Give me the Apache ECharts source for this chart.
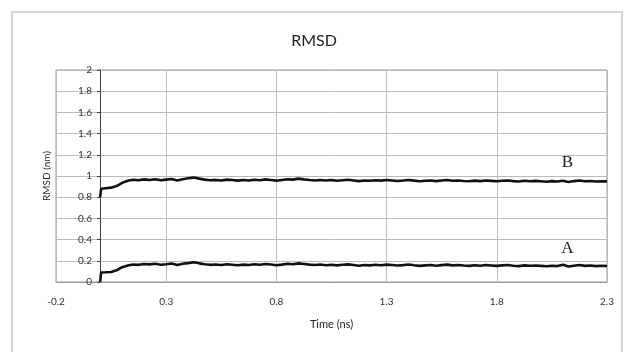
<!DOCTYPE html>
<html>
<head>
<meta charset="utf-8">
<script src="https://cdn.jsdelivr.net/npm/echarts@6/dist/echarts.min.js"></script>
<style>
  html, body { margin: 0; padding: 0; background: #fff; }
  #rmsd-chart { width: 628px; height: 352px; }
</style>
</head>
<body>
<div id="rmsd-chart"></div>
<script>
// time points (ns)
const timeNs = [0, 0.005, 0.025, 0.05, 0.075, 0.1, 0.125, 0.15, 0.175, 0.2,
  0.225, 0.25, 0.275, 0.3, 0.325, 0.35, 0.375, 0.4, 0.425, 0.45,
  0.475, 0.5, 0.525, 0.55, 0.575, 0.6, 0.625, 0.65, 0.675, 0.7,
  0.725, 0.75, 0.775, 0.8, 0.825, 0.85, 0.875, 0.9, 0.925, 0.95,
  0.975, 1.0, 1.025, 1.05, 1.075, 1.1, 1.125, 1.15, 1.175, 1.2,
  1.225, 1.25, 1.275, 1.3, 1.325, 1.35, 1.375, 1.4, 1.425, 1.45,
  1.475, 1.5, 1.525, 1.55, 1.575, 1.6, 1.625, 1.65, 1.675, 1.7,
  1.725, 1.75, 1.775, 1.8, 1.825, 1.85, 1.875, 1.9, 1.925, 1.95,
  1.975, 2.0, 2.025, 2.05, 2.075, 2.1, 2.125, 2.15, 2.175, 2.2,
  2.225, 2.25, 2.275, 2.3];

const rmsdB = [0.80, 0.88, 0.885, 0.89, 0.905, 0.935, 0.955, 0.965, 0.96, 0.968,
  0.962, 0.97, 0.96, 0.966, 0.972, 0.958, 0.97, 0.978, 0.985, 0.975,
  0.966, 0.96, 0.963, 0.958, 0.966, 0.962, 0.956, 0.962, 0.958, 0.965,
  0.96, 0.968, 0.962, 0.956, 0.963, 0.97, 0.966, 0.975, 0.968, 0.962,
  0.958, 0.963, 0.957, 0.962, 0.955, 0.96, 0.964, 0.958, 0.952, 0.958,
  0.955, 0.96, 0.956, 0.962, 0.958, 0.953, 0.957, 0.962, 0.956, 0.95,
  0.955, 0.958, 0.952, 0.957, 0.962, 0.955, 0.958, 0.953, 0.95, 0.956,
  0.952, 0.958, 0.954, 0.95, 0.955, 0.958, 0.952, 0.948, 0.955, 0.951,
  0.954, 0.95, 0.946, 0.952, 0.948, 0.955, 0.944, 0.952, 0.958, 0.95,
  0.953, 0.948, 0.951, 0.949];

const rmsdA = [0.00, 0.09, 0.092, 0.095, 0.11, 0.14, 0.155, 0.165, 0.162, 0.17,
  0.166, 0.172, 0.163, 0.168, 0.174, 0.16, 0.172, 0.178, 0.186, 0.176,
  0.168, 0.162, 0.165, 0.16, 0.168, 0.163, 0.158, 0.164, 0.16, 0.167,
  0.162, 0.17, 0.165, 0.158, 0.164, 0.172, 0.168, 0.176, 0.17, 0.164,
  0.16, 0.165, 0.158, 0.163, 0.157, 0.162, 0.166, 0.16, 0.154, 0.16,
  0.157, 0.162, 0.158, 0.164, 0.16, 0.155, 0.159, 0.165, 0.158, 0.152,
  0.157, 0.16, 0.154, 0.159, 0.164, 0.157, 0.16, 0.155, 0.152, 0.158,
  0.154, 0.16, 0.156, 0.152, 0.157, 0.16, 0.154, 0.15, 0.157, 0.153,
  0.156, 0.152, 0.148, 0.154, 0.15, 0.162, 0.146, 0.154, 0.16, 0.152,
  0.155, 0.15, 0.153, 0.151];

// where the A / B tags sit
const tagNames = ['A', 'B'];
const tagCoords = [[2.12, 0.32], [2.12, 1.13]];

const chartDom = document.getElementById('rmsd-chart');
const myChart = echarts.init(chartDom);

function pairs(vals) {
  return timeNs.map((t, i) => [t, vals[i]]);
}

function tagPoint(idx) {
  return {
    symbol: 'rect',
    symbolSize: 1,
    itemStyle: { color: 'transparent' },
    silent: true,
    data: [{
      coord: tagCoords[idx],
      label: {
        show: true,
        formatter: tagNames[idx],
        position: 'inside',
        fontFamily: 'Liberation Serif',
        fontSize: 17,
        color: '#222'
      }
    }]
  };
}

const option = {
  animation: false,
  textStyle: { fontFamily: 'Lato' },
  title: {
    text: 'RMSD',
    left: 'center',
    top: 28,
    textStyle: { fontFamily: 'Lato', fontSize: 16, fontWeight: 'normal', color: '#222' }
  },
  graphic: [{
    type: 'rect',
    shape: { x: 12, y: 12, width: 610, height: 345 },
    style: { fill: 'none', stroke: '#c8c8c8', lineWidth: 1.5 },
    silent: true
  }],
  grid: {
    left: 56, right: 21, top: 70, bottom: 70,
    outerBoundsMode: 'none',
    containLabel: false,
    show: true,
    borderColor: '#999',
    borderWidth: 1
  },
  xAxis: {
    type: 'value',
    min: -0.2,
    max: 2.3,
    interval: 0.5,
    name: 'Time (ns)',
    nameLocation: 'middle',
    nameGap: 37,
    nameTextStyle: { fontSize: 11, color: '#222' },
    axisLine: { show: true, lineStyle: { color: '#999' } },
    axisTick: { show: false },
    axisLabel: {
      fontSize: 10, color: '#333', margin: 15,
      formatter: v => v.toFixed(1)
    },
    splitLine: { show: true, lineStyle: { color: '#bbb', width: 1 } }
  },
  yAxis: {
    type: 'value',
    min: 0,
    max: 2,
    interval: 0.2,
    // axis sits at time 0, i.e. 0.2 of the 2.5 ns span in from the left
    offset: -44,
    name: 'RMSD (nm)',
    nameLocation: 'middle',
    nameGap: 48,
    nameTextStyle: { fontSize: 10, color: '#222' },
    axisLine: { show: true, onZero: false, lineStyle: { color: '#444', width: 1 } },
    axisTick: { show: true, inside: false, length: 3, lineStyle: { color: '#444' } },
    axisLabel: {
      fontSize: 10, color: '#333', margin: 8,
      formatter: v => (Math.round(v * 10) / 10).toString()
    },
    splitLine: { show: true, lineStyle: { color: '#bbb', width: 1 } }
  },
  series: [
    {
      name: 'B',
      type: 'line',
      data: pairs(rmsdB),
      showSymbol: false,
      lineStyle: { color: '#111', width: 2.6 },
      markPoint: tagPoint(1)
    },
    {
      name: 'A',
      type: 'line',
      data: pairs(rmsdA),
      showSymbol: false,
      lineStyle: { color: '#111', width: 2.6 },
      markPoint: tagPoint(0)
    }
  ]
};

option && myChart.setOption(option);
</script>
</body>
</html>
